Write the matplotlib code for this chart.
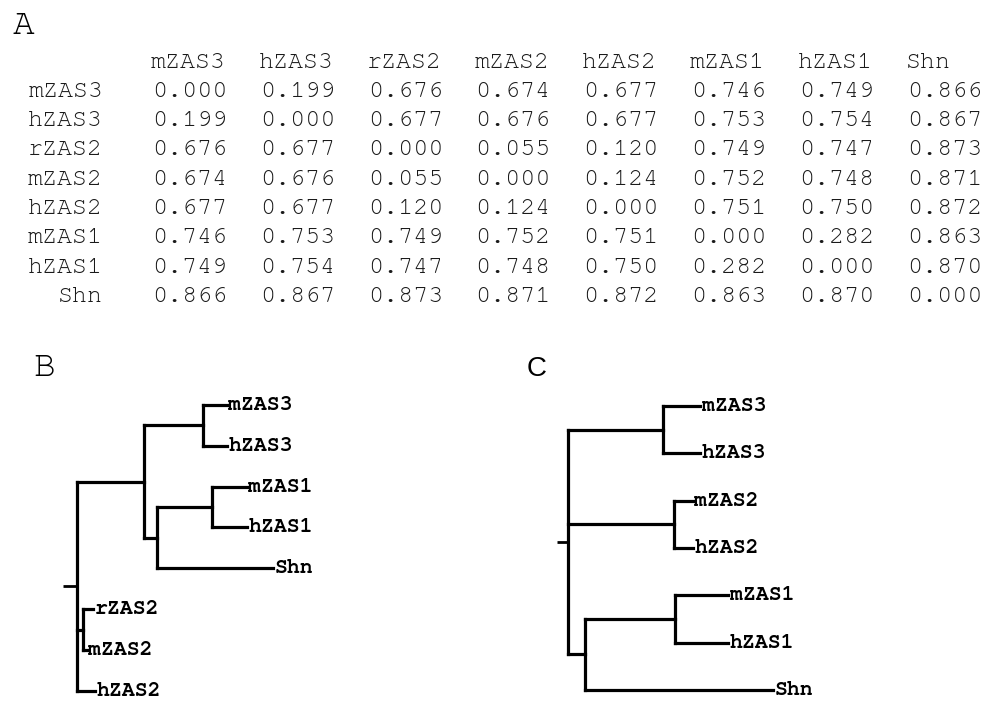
import matplotlib.pyplot as plt
import matplotlib as mpl

# distance matrix (panel A)
names = ["mZAS3", "hZAS3", "rZAS2", "mZAS2", "hZAS2", "mZAS1", "hZAS1", "Shn"]
dist = [
    [0.000, 0.199, 0.676, 0.674, 0.677, 0.746, 0.749, 0.866],
    [0.199, 0.000, 0.677, 0.676, 0.677, 0.753, 0.754, 0.867],
    [0.676, 0.677, 0.000, 0.055, 0.120, 0.749, 0.747, 0.873],
    [0.674, 0.676, 0.055, 0.000, 0.124, 0.752, 0.748, 0.871],
    [0.677, 0.677, 0.120, 0.124, 0.000, 0.751, 0.750, 0.872],
    [0.746, 0.753, 0.749, 0.752, 0.751, 0.000, 0.282, 0.863],
    [0.749, 0.754, 0.747, 0.748, 0.750, 0.282, 0.000, 0.870],
    [0.866, 0.867, 0.873, 0.871, 0.872, 0.863, 0.870, 0.000],
]

# trees (panels B and C), branch lengths
tree_b = "(((mZAS3:24,hZAS3:24):59,((mZAS1:35,hZAS1:35):55,Shn:116):13):67,(rZAS2:10,mZAS2:4):6,hZAS2:18):14;"
tree_c = "((mZAS3:37,hZAS3:37):95,(mZAS2:19,hZAS2:19):106,((mZAS1:53,hZAS1:53):90,Shn:188):17):11;"

mpl.rcParams["font.family"] = ["FreeMono", "Liberation Mono", "DejaVu Sans Mono"]
W, H = 983, 704


def parse_newick(s):
    pos = 0

    def node():
        nonlocal pos
        children = []
        if s[pos] == "(":
            pos += 1
            children.append(node())
            while s[pos] == ",":
                pos += 1
                children.append(node())
            pos += 1
        start = pos
        while s[pos] not in ":,);":
            pos += 1
        name = s[start:pos]
        length = 0.0
        if s[pos] == ":":
            pos += 1
            start = pos
            while s[pos] not in ",);":
                pos += 1
            length = float(s[start:pos])
        return {"name": name, "len": length, "children": children}

    return node()


def layout(n, x, leaves):
    n["x"] = x
    if not n["children"]:
        n["y"] = len(leaves)
        leaves.append(n)
    else:
        for c in n["children"]:
            layout(c, x + c["len"], leaves)
        n["y"] = (n["children"][0]["y"] + n["children"][-1]["y"]) / 2


def draw_tree(ax, tree_str, fs):
    root = parse_newick(tree_str)
    layout(root, 0, [])
    kw = dict(color="black", lw=2.3, solid_capstyle="projecting")
    ax.plot([-root["len"], 0], [root["y"], root["y"]], color="black", lw=2.0, solid_capstyle="butt")
    stack = [root]
    while stack:
        n = stack.pop()
        if not n["children"]:
            ax.text(n["x"] + 1.5, n["y"], n["name"], ha="left", va="center",
                    fontsize=fs, fontweight="bold")
            continue
        ys = [c["y"] for c in n["children"]]
        ax.plot([n["x"], n["x"]], [min(ys), max(ys)], **kw)
        for c in n["children"]:
            ax.plot([n["x"], c["x"]], [c["y"], c["y"]], **kw)
            stack.append(c)


fig = plt.figure(figsize=(W / 100, H / 100), dpi=100)

# Panel A: table, x = column index, y = row index
ax_t = fig.add_axes([0, 0, 1, 1])
ax_t.set_xlim(-1.4007, 7.718)
ax_t.set_ylim(20.9, -3.138)
ax_t.axis("off")
tcol = "#1a1a1a"
tfs = 18
for j, nm in enumerate(names):
    ax_t.text(j, -1, nm, ha="left", va="center", fontsize=tfs, color=tcol)
for i, nm in enumerate(names):
    ax_t.text(-0.445, i, nm, ha="right", va="center", fontsize=tfs, color=tcol)
    for j in range(len(names)):
        ax_t.text(j + 0.01, i, "%.3f" % dist[i][j], ha="left", va="center",
                  fontsize=tfs, color=tcol)

fig.text(13 / W, 1 - 27 / H, "A", ha="left", va="center", fontsize=26)
fig.text(33 / W, 1 - 368 / H, "B", ha="left", va="center", fontsize=26)
fig.text(527 / W, 1 - 369 / H, "C", ha="left", va="center", fontsize=20,
         family="Liberation Sans")

# Panel B
ax_b = fig.add_axes([40 / W, 0, 290 / W, 324 / H])
draw_tree(ax_b, tree_b, 15.5)
ax_b.set_xlim(-37, 253)
ax_b.set_ylim(7.32, -0.61)
ax_b.axis("off")

# Panel C
ax_c = fig.add_axes([530 / W, 0, 453 / W, 324 / H])
draw_tree(ax_c, tree_c, 15.5)
ax_c.set_xlim(-38, 415)
ax_c.set_ylim(6.30, -0.55)
ax_c.axis("off")

fig.savefig("out.png", dpi=100)
